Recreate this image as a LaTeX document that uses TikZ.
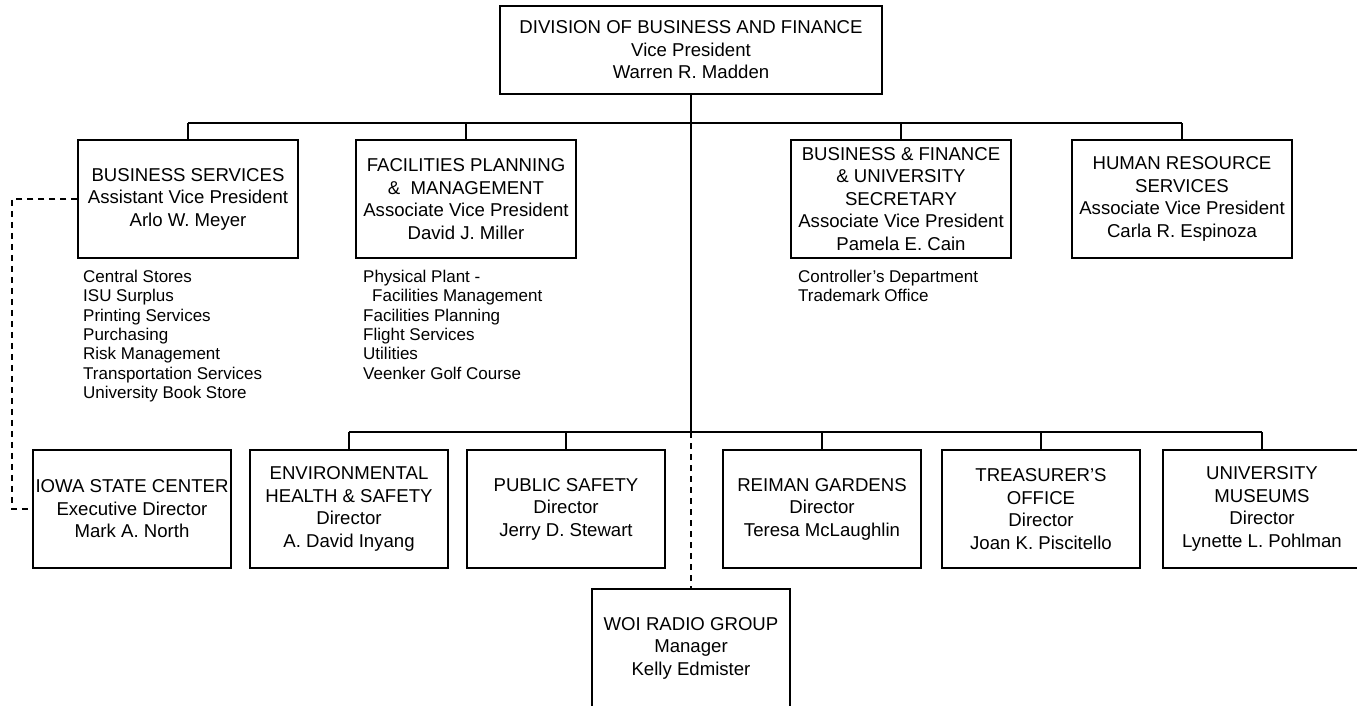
\documentclass[tikz,border=0pt]{standalone}
\usepackage{fontspec}
\setmainfont{Liberation Sans}
\usetikzlibrary{positioning}
\tikzset{
	unitbox/.style={draw, line width=1.5pt, rectangle, align=center, inner sep=0pt,
		minimum width=198pt, minimum height=118pt,
		font=\fontsize{18.6}{22.5}\selectfont},
	widebox/.style={unitbox, minimum width=220pt},
	sublist/.style={align=left, inner sep=0pt, anchor=north west,
		font=\fontsize{17}{19.3}\selectfont},
	link/.style={line width=1.5pt},
	dotlink/.style={line width=1.1pt, dash pattern=on 6pt off 5pt},
}
\begin{document}
\begin{tikzpicture}[x=1pt, y=-1pt]
		\useasboundingbox (0,0) rectangle (1357,705);
		% head of the division
		\node[unitbox, minimum width=382pt, minimum height=88pt] (vp) at (691,50) {DIVISION OF BUSINESS AND FINANCE\\Vice President\\Warren R. Madden};
		\coordinate (busA) at (691,123);
		\coordinate (busB) at (691,432);
		\coordinate (elbow) at (12,0);

		\node[widebox] (bs) at (188,199) {BUSINESS SERVICES\\Assistant Vice President\\Arlo W. Meyer};
		\node[widebox] (fpm) at (466,199) {FACILITIES PLANNING\\\&\ \ MANAGEMENT\\Associate Vice President\\David J. Miller};
		\node[widebox] (bfs) at (901,199) {BUSINESS \& FINANCE\\\& UNIVERSITY\\SECRETARY\\Associate Vice President\\Pamela E. Cain};
		\node[widebox] (hr) at (1182,199) {HUMAN RESOURCE\\SERVICES\\Associate Vice President\\Carla R. Espinoza};

		\node[sublist] (bslist) at (83,270) {Central Stores\\ISU Surplus\\Printing Services\\Purchasing\\Risk Management\\Transportation Services\\University Book Store};
		\node[sublist] (fpmlist) at (363,270) {Physical Plant -\\\hspace*{9pt}Facilities Management\\Facilities Planning\\Flight Services\\Utilities\\Veenker Golf Course};
		\node[sublist] (bfslist) at (798,270) {Controller’s Department\\Trademark Office};

		\node[unitbox] (isc) at (132,509) {IOWA STATE CENTER\\Executive Director\\Mark A. North};
		\node[unitbox] (ehs) at (349,509) {ENVIRONMENTAL\\HEALTH \& SAFETY\\Director\\A. David Inyang};
		\node[unitbox] (ps) at (566,509) {PUBLIC SAFETY\\Director\\Jerry D. Stewart};
		\node[unitbox] (rg) at (822,509) {REIMAN GARDENS\\Director\\Teresa McLaughlin};
		\node[unitbox] (to) at (1041,509) {TREASURER’S\\OFFICE\\Director\\Joan K. Piscitello};
		\node[unitbox] (um) at (1262,509) {UNIVERSITY\\MUSEUMS\\Director\\Lynette L. Pohlman};
		\node[unitbox] (woi) at (691,648) {WOI RADIO GROUP\\Manager\\Kelly Edmister};

		\draw[link] (vp.south) -- (busB);
		\draw[link] (bs.north |- busA) -- (hr.north |- busA);
		\foreach \u in {bs,fpm,bfs,hr}
			\draw[link] (\u.north |- busA) -- (\u.north);
		\draw[link] (ehs.north |- busB) -- (um.north |- busB);
		\foreach \u in {ehs,ps,rg,to,um}
			\draw[link] (\u.north |- busB) -- (\u.north);
		\draw[dotlink] (busB) -- (woi.north);
		\draw[dotlink] (bs.west) -| (elbow |- isc.west) -- (isc.west);
	\end{tikzpicture}
\end{document}
